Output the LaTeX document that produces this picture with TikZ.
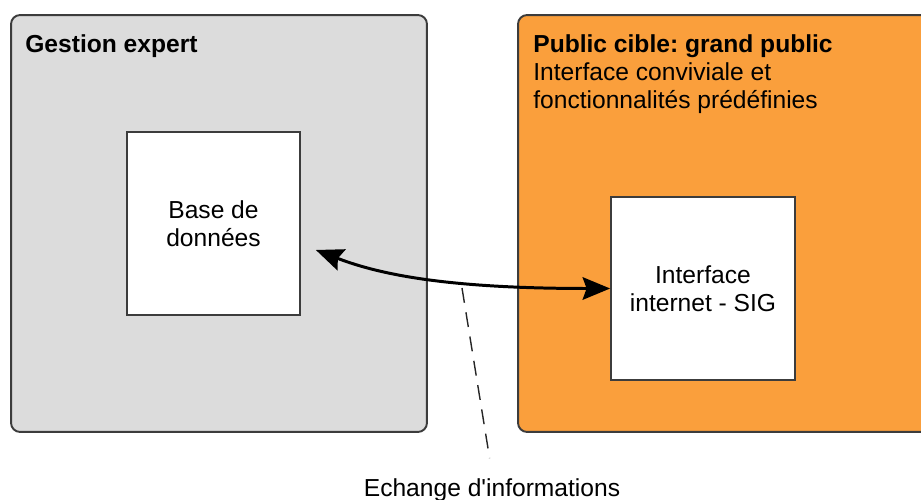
\documentclass[tikz,border=0pt]{standalone}
\usepackage{fontspec}
\setmainfont{Liberation Sans}
\usetikzlibrary{arrows.meta}
\definecolor{panelgray}{HTML}{DCDCDC}
\definecolor{publicorange}{HTML}{FA9F3C}
\definecolor{edgegray}{HTML}{3C3C3C}
\frenchspacing

\begin{document}
\begin{tikzpicture}[x=0.02cm, y=-0.02cm,
    >={Stealth[length=0.55cm, width=0.45cm, inset=0.08cm]},
    panel/.style={draw=edgegray, line width=1.1pt, rounded corners=0.18cm, minimum height=8.34cm},
    inbox/.style={draw=edgegray, line width=1pt, fill=white, align=center, minimum height=3.66cm,
        font=\fontsize{14}{16}\selectfont},
    heading/.style={anchor=north west, align=left, inner sep=0pt, font=\fontsize{14}{16}\selectfont}]
    \useasboundingbox (0,0) rectangle (921,500);
    \clip (0,0) rectangle (921,500);

    \node[panel, fill=panelgray, minimum width=8.32cm] (gestion) at (219,223.5) {};
    \node[panel, fill=publicorange, minimum width=8.84cm] (public) at (739,223.5) {};

    \node[heading] (gestiontitle) at (25,34) {\textbf{Gestion expert}};
    \node[heading] (publictitle) at (533,34)
        {\textbf{Public cible: grand public}\\Interface conviviale et\\fonctionnalités prédéfinies};

    \node[inbox, minimum width=3.46cm] (base) at (213.5,223.5) {Base de\\données};
    \node[inbox, minimum width=3.68cm] (sig) at (703,288.5) {Interface\\internet - SIG};

    \draw[<->, line width=1.7pt] ([xshift=0.3cm, yshift=-0.53cm]base.east)
        .. controls +(65,25) and +(-161,0) .. (sig.west);

    \node[anchor=base, font=\fontsize{14}{16}\selectfont] (echange) at (492,497)
        {Echange d\textquotesingle informations};
    \coordinate (dashtop) at (462,288);
    \draw[dashed, dash pattern=on 8.5pt off 5.5pt, line width=0.8pt, black!85, shorten >=0.3cm]
        (dashtop) -- (echange.north);
\end{tikzpicture}
\end{document}
